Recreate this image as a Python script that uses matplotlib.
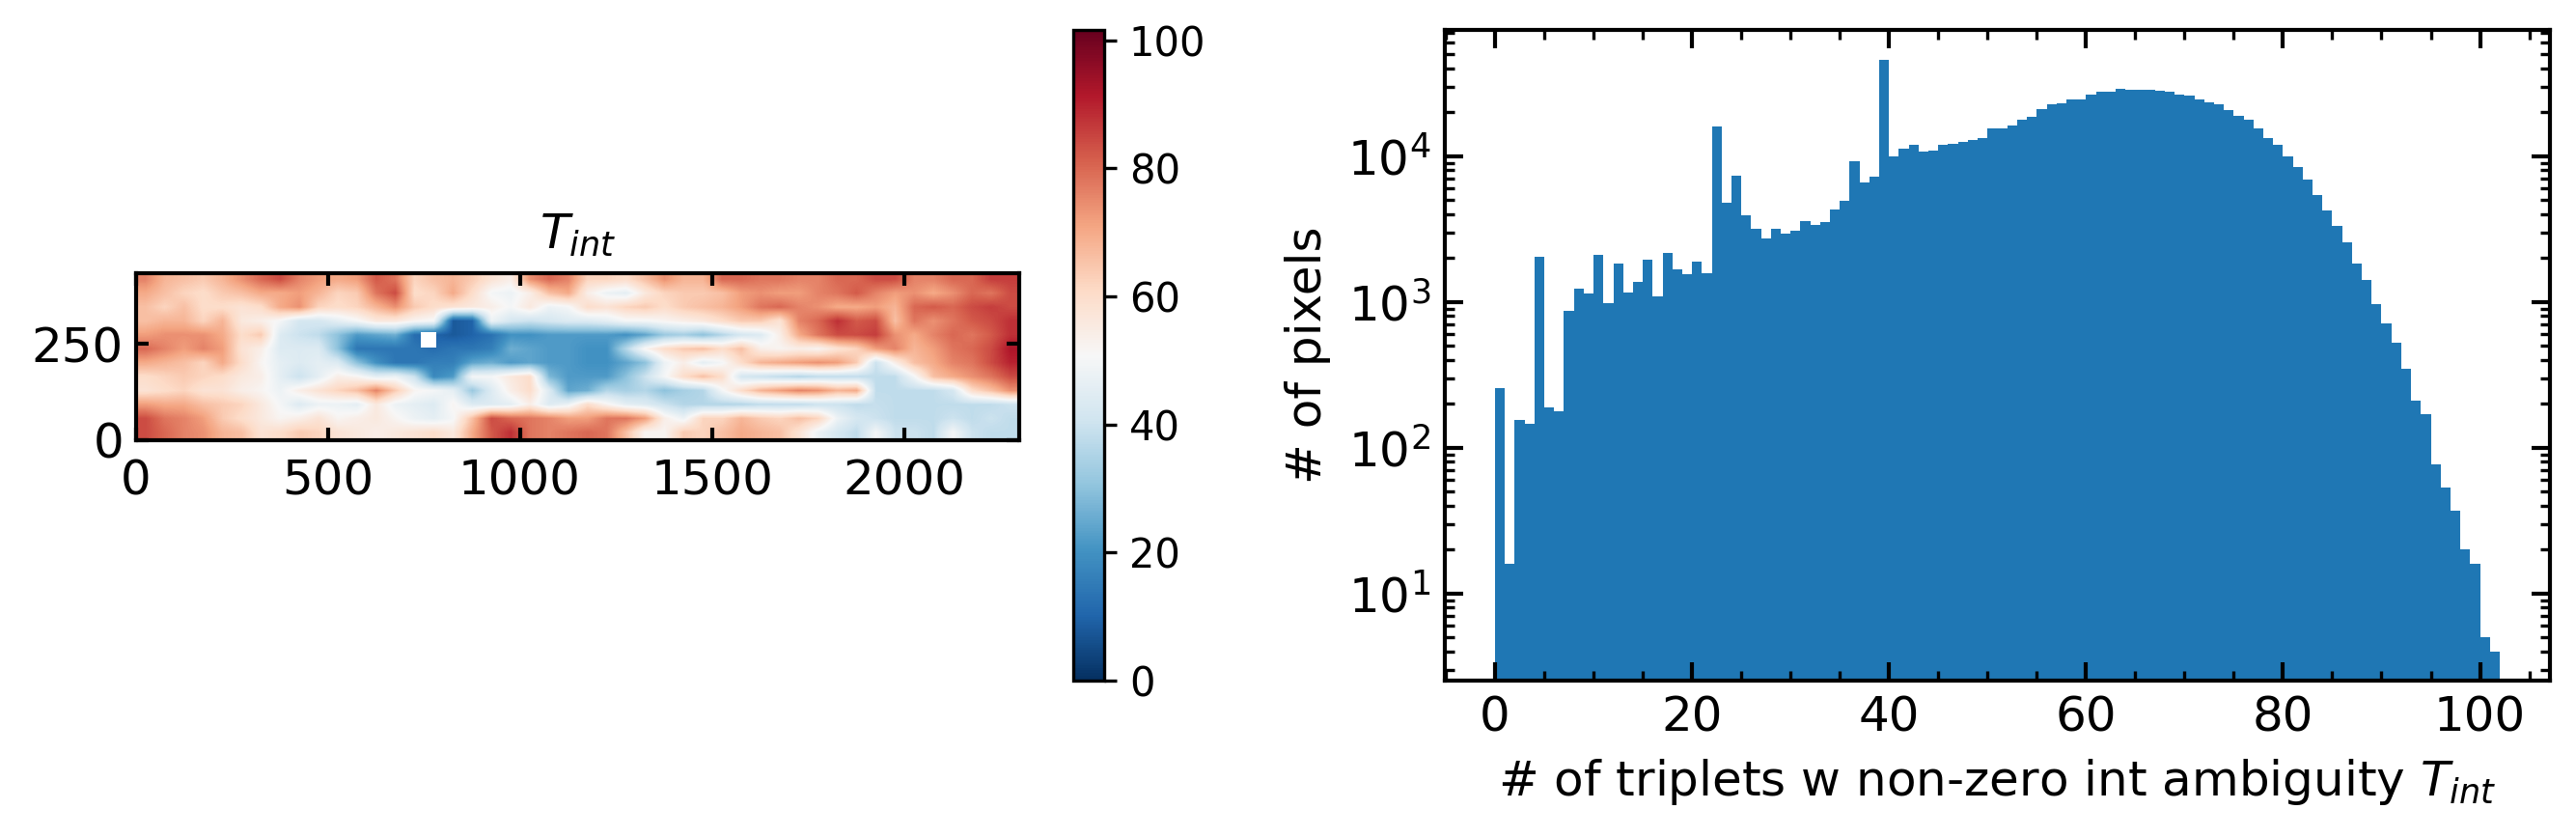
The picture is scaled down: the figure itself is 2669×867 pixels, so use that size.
import numpy as np
import matplotlib
matplotlib.use('Agg')
import matplotlib.pyplot as plt
from matplotlib.patches import Rectangle
from matplotlib.ticker import MultipleLocator

# coarse read of the T_int map, 50 x 36 units per cell, top row first
tint_rows = [
    [76,68,66,64,68,74,80,84,76,72,70,72,82,78,62,66,68,64,58,54,74,80,76, 62,62,60,66,74,68,68,80,80,78,78,76,76,80,80,84,84,76,76,80,80,86,86],
    [70,66,62,60,64,66,70,70,72,68,62,64,78,84,60,62,70,60,50,48,54,66,70, 54,48,46,56,62,64,64,66,72,74,72,72,76,78,82,76,72,74,70,74,80,78,84],
    [66,62,66,60,60,58,60,70,74,62,60,62,68,74,64,60,58,56,54,50,56,48,50, 60,58,62,64,60,64,66,68,72,78,80,76,74,70,70,72,68,80,82,80,84,86,84],
    [66,68,68,62,68,56,54,50,42,42,46,50,56,56,52,50,8,10,48,42,40,42,44, 44,46,50,50,52,54,56,60,64,64,58,76,80,88,82,84,66,78,74,78,82,84,88],
    [72,74,74,74,70,60,64,44,40,38,30,22,24,26,12,10,8,10,13,20,20,22,22, 22,22,20,24,32,34,30,36,42,44,54,70,78,84,84,86,74,70,76,80,78,82,88],
    [80,76,72,76,72,58,54,44,44,44,30,14,14,14,14,12,14,14,16,26,24,22,22, 20,20,36,52,60,64,66,60,66,54,52,54,52,58,62,72,76,68,72,78,80,84,92],
    [70,68,66,62,70,60,52,46,44,46,44,30,20,14,14,16,16,24,26,22,24,22,22, 20,20,24,30,48,54,46,50,60,68,70,72,74,72,64,40,54,66,70,76,78,84,90],
    [60,62,64,62,60,56,54,46,40,46,54,52,46,48,40,18,22,50,50,56,60,28,22, 22,22,30,40,50,60,66,60,42,40,38,36,38,38,38,38,38,50,66,70,74,78,84],
    [58,60,62,58,58,54,52,48,54,58,62,66,76,64,52,50,46,32,44,54,60,44,24, 26,36,34,36,30,34,36,50,60,68,72,76,74,68,70,38,38,38,38,42,60,66,74],
    [72,70,70,66,64,62,56,50,44,48,48,46,56,48,46,44,52,44,44,46,54,44,48, 60,52,46,44,40,36,36,36,36,38,38,38,40,40,38,39,38,38,38,38,38,38,40],
    [84,78,76,72,64,60,56,52,54,58,52,54,56,52,48,46,50,66,84,80,78,76,72, 72,78,78,72,54,48,62,62,68,64,62,66,62,48,42,40,38,38,38,40,38,40,38],
    [84,80,76,74,68,66,58,60,64,62,58,56,54,56,58,60,56,70,82,88,78,76,78, 80,78,66,52,52,64,62,66,70,68,66,58,48,42,38,50,40,40,38,50,40,38,38],
]
map_width = 2300
map_height = 435
hole_x = 742
hole_y = 241
hole_size = 40
tint_max = 101.6

# pixels per value of T_int, 0 to 101
pixel_counts = [
    255,16,154,145,2042,188,177,865,1233,1144,2099,978,1831,1160,1365,1947,1090,2172,1675,1545,
    1892,1576,16000,4790,7360,3930,3180,2720,3180,2930,3070,3600,3380,3520,4290,4950,9210,6590,7260,46000,
    10000,11300,12020,10790,10920,12020,12190,12530,12960,13300,15570,15570,16220,17620,18720,21030,22820,23130,24270,24600,
    26500,27420,27800,28970,28580,28580,28580,28180,27420,26500,25800,24600,23440,22820,20750,18970,17620,15570,13300,12020,
    10000,8430,6920,5410,4240,3310,2560,1830,1413,964,710,522,347,209,169,77,53,37,20,16,
    5,4,
]
bin_left = np.arange(len(pixel_counts))

W, H = 2669, 867
fig = plt.figure(figsize=(W / 300, H / 300), dpi=300)


def box(x0, y0, x1, y1):
    return [x0 / W, 1 - y1 / H, (x1 - x0) / W, (y1 - y0) / H]


ax1 = fig.add_axes(box(140.5, 283, 1056, 455.5))
im = ax1.imshow(np.array(tint_rows), cmap='RdBu_r', vmin=0, vmax=tint_max,
                extent=[0, map_width, 0, map_height], interpolation='bilinear', aspect='auto')
ax1.add_patch(Rectangle((hole_x, hole_y), hole_size, hole_size, color='white', lw=0))
ax1.set_xticks([0, 500, 1000, 1500, 2000])
ax1.set_yticks([0, 250])
ax1.tick_params(direction='in', top=True, right=True, labelsize=12, length=3.2, width=1, pad=3)
ax1.tick_params(axis='x', pad=4.6)
ax1.set_title('$T_{int}$', fontsize=12, pad=6)
for s in ax1.spines.values():
    s.set_linewidth(1)

cax = fig.add_axes(box(1112, 31, 1144, 705))
cb = fig.colorbar(im, cax=cax)
cb.set_ticks([0, 20, 40, 60, 80, 100])
cb.ax.tick_params(labelsize=10, length=3.2, width=0.8, pad=3)

ax2 = fig.add_axes(box(1497, 31, 2642, 705))
ax2.bar(bin_left, pixel_counts, width=1, align='edge', color='#1f77b4', log=True)
ax2.set_xlim(-5.1, 107.1)
ax2.set_ylim(2.52, 73300)
ax2.xaxis.set_major_locator(MultipleLocator(20))
ax2.xaxis.set_minor_locator(MultipleLocator(5))
ax2.tick_params(which='major', direction='in', top=True, right=True, labelsize=12, length=4.5, width=1)
ax2.tick_params(which='minor', direction='in', top=True, right=True, length=2.4, width=0.8)
ax2.set_xlabel('# of triplets w non-zero int ambiguity $T_{int}$', fontsize=12)
ax2.set_ylabel('# of pixels', fontsize=12)
for s in ax2.spines.values():
    s.set_linewidth(1)

fig.savefig('out.png', dpi=300)
